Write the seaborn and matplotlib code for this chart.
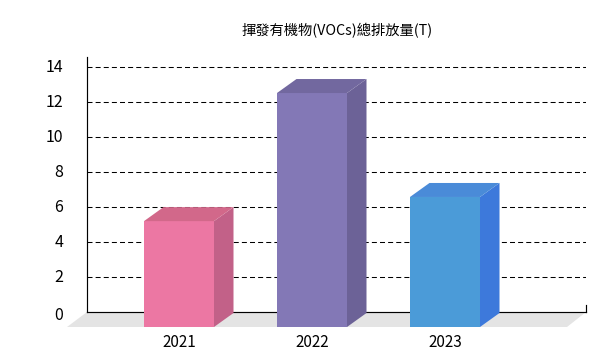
import matplotlib
matplotlib.use("Agg")
import matplotlib.pyplot as plt
import matplotlib.transforms as mtrans
from matplotlib.patches import Polygon
import pandas as pd
import seaborn as sns

years = ["2021", "2022", "2023"]
values = [6.05, 13.37, 7.43]
y_ticks = [0, 2, 4, 6, 8, 10, 12, 14]
title = "揮發有機物(VOCs)總排放量(T)"

front_colors = ["#EC77A3", "#8378B6", "#4B9BD8"]
top_colors = ["#D2688A", "#72689F", "#4A8BD8"]
side_colors = ["#C26188", "#6C6297", "#3D79DB"]

W, H = 600, 360
DEPTH_X, DEPTH_Y = 19.5, 14
PX_PER_UNIT = 17.5
PX_PER_CAT = 133


def box(left, right, bottom, top):
    # pixel box (y measured from the top) to figure fractions
    return [left / W, 1 - bottom / H, (right - left) / W, (bottom - top) / H]


sns.set_theme(style="white")
plt.rcParams["font.family"] = ["Noto Sans CJK TC", "DejaVu Sans"]

fig = plt.figure(figsize=(6, 3.6), dpi=100, facecolor="white")

# floor under the chart
floor_px = [(67, 327), (567, 327), (586, 312), (87, 312)]
fig.add_artist(Polygon([(x / W, 1 - y / H) for x, y in floor_px], closed=True,
                       facecolor="#E4E4E4", edgecolor="none", transform=fig.transFigure, zorder=0))

# back wall: axis and grid
back = fig.add_axes(box(87, 586, 312, 57), zorder=1)
back.patch.set_visible(False)
back.set_xlim(0, 1)
back.set_ylim(0, 255 / PX_PER_UNIT)
back.set_yticks(y_ticks)
back.set_xticks([])
back.grid(False)
for tick in y_ticks[1:]:
    back.axhline(tick, color="black", lw=0.75, dashes=(4.8, 3), zorder=1)
back.spines["top"].set_visible(False)
back.spines["right"].set_bounds(0, 7 / PX_PER_UNIT)
for side in ["left", "right", "bottom"]:
    back.spines[side].set_linewidth(0.85)
    back.spines[side].set_color("black")
back.tick_params(axis="y", length=0, pad=17, labelsize=11.5, labelcolor="black")
labels = back.get_yticklabels()
for lab, tick in zip(labels, y_ticks):
    shift = -1.2 if tick == 0 else 1
    lab.set_transform(lab.get_transform() + mtrans.ScaledTranslation(0, shift / 72, fig.dpi_scale_trans))

# front plane: the bars
front = fig.add_axes(box(67, 567, 327, 57), zorder=2)
df = pd.DataFrame({"year": years, "value": values})
sns.barplot(data=df, x="year", y="value", hue="year", palette=front_colors, legend=False,
            width=70 / PX_PER_CAT, saturation=1, linewidth=0, edgecolor="none", ax=front)
front.set_xlim((67 - 179) / PX_PER_CAT, (567 - 179) / PX_PER_CAT)
front.set_ylim(0, 270 / PX_PER_UNIT)
front.patch.set_visible(False)
front.set_xlabel("")
front.set_ylabel("")
front.set_yticks([])
front.tick_params(axis="x", length=0, pad=5, labelsize=11, labelcolor="black")
for spine in front.spines.values():
    spine.set_visible(False)

# side and top faces from the bar geometry
dx = DEPTH_X / PX_PER_CAT
dy = DEPTH_Y / PX_PER_UNIT
for bar, top_c, side_c in zip(list(front.patches), top_colors, side_colors):
    x0, x1 = bar.get_x(), bar.get_x() + bar.get_width()
    h = bar.get_height()
    front.add_patch(Polygon([(x1, 0), (x1 + dx, dy), (x1 + dx, h + dy), (x1, h)], closed=True,
                            facecolor=side_c, edgecolor="none", clip_on=False))
    front.add_patch(Polygon([(x0, h), (x0 + dx, h + dy), (x1 + dx, h + dy), (x1, h)], closed=True,
                            facecolor=top_c, edgecolor="none", clip_on=False))

fig.text(337 / W, 1 - 31 / H, title, ha="center", va="center", fontsize=10.3, color="black")

fig.savefig("out.png", dpi=100)
